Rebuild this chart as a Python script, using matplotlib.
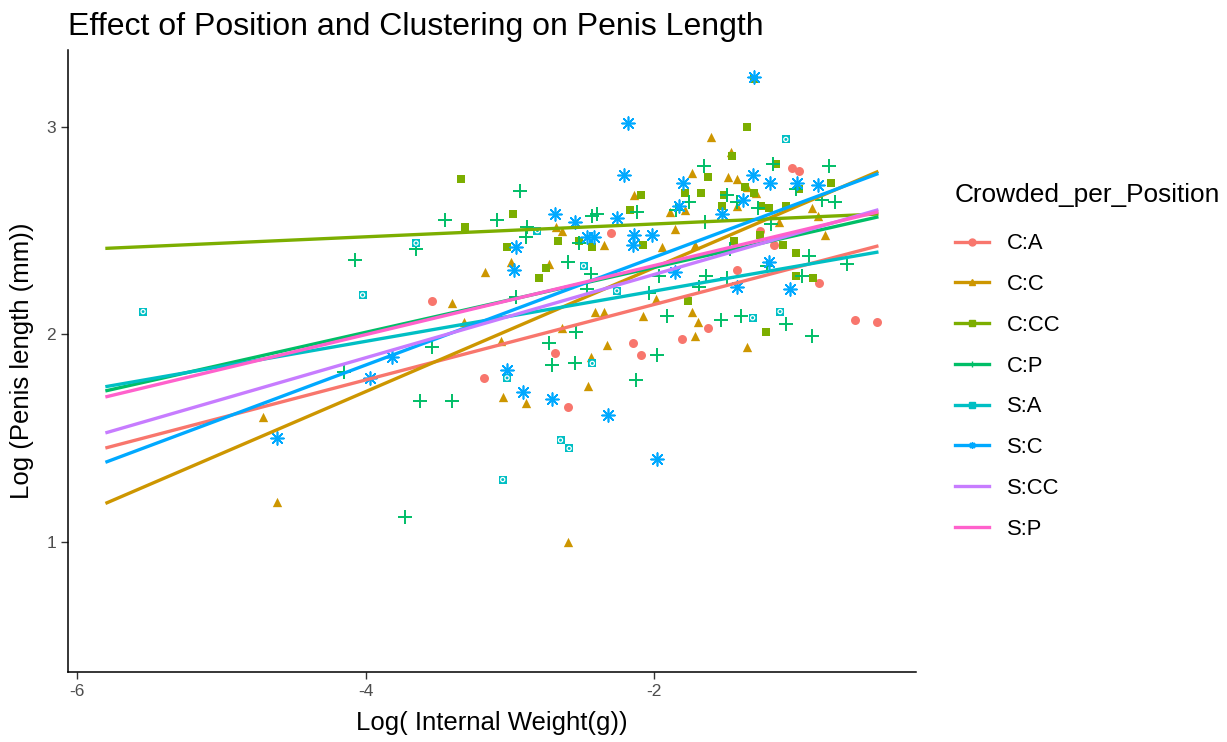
import matplotlib.pyplot as plt
from matplotlib.lines import Line2D
import numpy as np

# -------------------------------
# Data (log internal weight, log penis length) per group
# -------------------------------
groups = ["C:A", "C:C", "C:CC", "C:P", "S:A", "S:C", "S:CC", "S:P"]
colors = ["#F8766D", "#CD9600", "#7CAE00", "#00BE67",
          "#00BFC4", "#00A9FF", "#C77CFF", "#FF61CC"]

ca_x = [-3.54, -3.18, -2.69, -2.60, -2.30, -2.15, -2.09, -1.81, -1.63, -1.43,
        -1.17, -1.05, -1.00, -0.86, -0.61, -0.46, -1.27]
ca_y = [2.16, 1.79, 1.91, 1.65, 2.49, 1.96, 1.90, 1.98, 2.03, 2.31,
        2.43, 2.80, 2.79, 2.25, 2.07, 2.06, 2.50]

cc_x = [-4.71, -4.61, -2.60, -3.40, -3.17, -3.32, -2.99, -2.73, -3.05, -2.89,
        -2.46, -2.44, -2.64, -2.41, -3.06, -2.68, -2.64, -1.61, -1.47, -1.74,
        -1.49, -1.43, -2.14, -1.89, -1.79, -1.43, -2.35, -1.95, -1.72, -2.35,
        -2.08, -1.99, -1.74, -1.70, -1.72, -2.33, -1.36, -1.86, -0.91, -0.87,
        -1.14, -0.82, -1.36, -1.30]
cc_y = [1.60, 1.19, 1.00, 2.15, 2.30, 2.06, 2.35, 2.34, 1.70, 1.67,
        1.75, 1.89, 2.03, 2.11, 1.97, 2.52, 2.50, 2.95, 2.88, 2.78,
        2.76, 2.75, 2.67, 2.59, 2.60, 2.62, 2.43, 2.42, 2.43, 2.11,
        2.09, 2.17, 2.11, 2.06, 1.99, 1.95, 1.94, 2.51, 2.61, 2.57,
        2.54, 2.48, 2.71, 2.68]

ccc_x = [-3.34, -2.98, -3.31, -2.67, -2.52, -3.02, -2.43, -2.75, -2.80, -1.36,
         -1.46, -1.63, -2.09, -1.68, -1.79, -2.17, -1.52, -1.53, -1.37, -1.31,
         -1.16, -1.31, -1.00, -0.78, -1.26, -1.21, -1.09, -1.27, -1.02, -1.11,
         -1.02, -0.90, -1.23, -2.08, -1.77, -1.45]
ccc_y = [2.75, 2.58, 2.52, 2.45, 2.45, 2.42, 2.42, 2.32, 2.27, 3.00,
         2.86, 2.76, 2.67, 2.68, 2.68, 2.60, 2.67, 2.62, 2.71, 3.23,
         2.82, 2.68, 2.70, 2.73, 2.62, 2.61, 2.62, 2.48, 2.39, 2.43,
         2.28, 2.27, 2.01, 2.43, 2.16, 2.45]

cp_x = [-3.45, -4.07, -3.65, -3.54, -4.15, -3.62, -3.40, -3.73, -2.93, -3.09,
        -2.88, -2.89, -2.52, -2.43, -2.40, -2.60, -2.44, -2.96, -2.73, -2.55,
        -2.71, -2.54, -2.47, -1.66, -1.76, -2.12, -1.85, -1.50, -1.43, -1.65,
        -1.91, -1.54, -1.40, -1.98, -2.13, -2.04, -1.69, -1.48, -1.64, -1.50,
        -1.97, -1.18, -0.79, -0.75, -0.84, -1.02, -1.28, -1.19, -0.93, -0.67,
        -0.98, -1.22, -1.09, -0.91]
cp_y = [2.55, 2.36, 2.41, 1.94, 1.82, 1.68, 1.68, 1.12, 2.69, 2.55,
        2.52, 2.47, 2.44, 2.57, 2.58, 2.35, 2.29, 2.18, 1.96, 1.86,
        1.85, 2.01, 2.22, 2.81, 2.64, 2.59, 2.60, 2.67, 2.64, 2.54,
        2.09, 2.07, 2.09, 1.90, 1.78, 2.20, 2.23, 2.41, 2.28, 2.27,
        2.28, 2.82, 2.81, 2.64, 2.65, 2.70, 2.61, 2.53, 2.38, 2.34,
        2.28, 2.33, 2.05, 1.99]

sa_x = [-5.54, -4.02, -3.65, -2.81, -2.49, -2.43, -3.02, -2.65, -2.59, -3.05,
        -1.09, -1.32, -1.13, -2.26]
sa_y = [2.11, 2.19, 2.44, 2.50, 2.33, 1.86, 1.79, 1.49, 1.45, 1.30,
        2.94, 2.08, 2.11, 2.21]

sc_x = [-4.61, -3.97, -3.82, -2.69, -2.55, -2.47, -2.42, -2.96, -2.97, -3.02,
        -2.91, -2.71, -2.18, -2.21, -1.80, -1.83, -2.26, -1.53, -1.39, -1.31,
        -2.14, -2.02, -2.15, -1.86, -1.43, -2.32, -1.98, -1.32, -1.20, -1.01,
        -0.87, -1.21, -1.06]
sc_y = [1.50, 1.79, 1.89, 2.58, 2.54, 2.47, 2.47, 2.42, 2.31, 1.83,
        1.72, 1.69, 3.02, 2.77, 2.73, 2.62, 2.56, 2.58, 2.65, 3.24,
        2.48, 2.48, 2.43, 2.30, 2.23, 1.61, 1.40, 2.77, 2.73, 2.73,
        2.72, 2.35, 2.22]

# groups S:CC and S:P have no visible points (shape palette ran out)
points = {"C:A": (ca_x, ca_y), "C:C": (cc_x, cc_y), "C:CC": (ccc_x, ccc_y),
          "C:P": (cp_x, cp_y), "S:A": (sa_x, sa_y), "S:C": (sc_x, sc_y)}

# fitted lm lines over the full x range
fit_x = [-5.79, -0.46]
fit_start = [1.454, 1.188, 2.415, 1.729, 1.749, 1.386, 1.527, 1.700]
fit_end = [2.425, 2.783, 2.580, 2.565, 2.396, 2.773, 2.599, 2.589]

# -------------------------------
# Marker styles (ggplot shapes 16, 17, 15, 3, 7, 8)
# -------------------------------
markers = {
    "C:A": dict(marker="o", s=42, linewidths=0),
    "C:C": dict(marker="^", s=45, linewidths=0),
    "C:CC": dict(marker="s", s=36, linewidths=0),
    "C:P": dict(marker="+", s=110, linewidths=1.4),
    "S:A": dict(marker="s", s=40, linewidths=0),
    "S:C": dict(marker=(8, 2, 0), s=85, linewidths=1.2),
}

plt.rcParams["font.family"] = ["Liberation Sans", "DejaVu Sans"]
plt.rcParams["axes.unicode_minus"] = False

fig = plt.figure(figsize=(12.27, 7.42), dpi=100)
ax = fig.add_axes([0.0554, 0.0943, 0.691, 0.838])

for g, c in zip(groups, colors):
    if g in points:
        xs, ys = points[g]
        ax.scatter(xs, ys, color=c, zorder=2, **markers[g])
        if g == "S:A":
            ax.scatter(xs, ys, marker="o", s=9, facecolors="none",
                       edgecolors="white", linewidths=0.9, zorder=2.1)

for i, (g, c) in enumerate(zip(groups, colors)):
    ax.plot(fit_x, [fit_start[i], fit_end[i]], color=c, lw=2.4, zorder=3)

ax.set_xlim(-6.06, -0.19)
ax.set_ylim(0.372, 3.37)
ax.set_xticks([-6, -4, -2])
ax.set_yticks([1, 2, 3])
for s in ["top", "right"]:
    ax.spines[s].set_visible(False)
for s in ["left", "bottom"]:
    ax.spines[s].set_linewidth(1.1)
ax.tick_params(length=5, width=1.0, color="#333333", labelsize=12.5,
               labelcolor="#4D4D4D")

ax.set_xlabel("Log( Internal Weight(g))", fontsize=18.5, labelpad=8.5)
ax.set_ylabel("Log (Penis length (mm))", fontsize=18.5, labelpad=9)
fig.text(0.0554, 0.953, "Effect of Position and Clustering on Penis Length",
         fontsize=23, ha="left", va="baseline")

# -------------------------------
# Legend
# -------------------------------
handles = []
for g, c in zip(groups, colors):
    if g in markers:
        m = markers[g]["marker"]
        h = Line2D([], [], color=c, lw=2.4, marker=m, markersize=5,
                   markeredgewidth=1.0)
    else:
        h = Line2D([], [], color=c, lw=2.4)
    handles.append(h)
leg = fig.legend(handles, groups, loc="upper left", bbox_to_anchor=(0.778, 0.753),
                 frameon=False, fontsize=15.8, title="Crowded_per_Position",
                 title_fontsize=18.9, labelspacing=0.9, handlelength=1.55,
                 handletextpad=0.82, borderpad=0, borderaxespad=0,
                 alignment="left")
# a bit more room between legend title and keys
leg._legend_box.sep = leg._legend_box.sep + 4.5

fig.savefig("out.png", dpi=100)
